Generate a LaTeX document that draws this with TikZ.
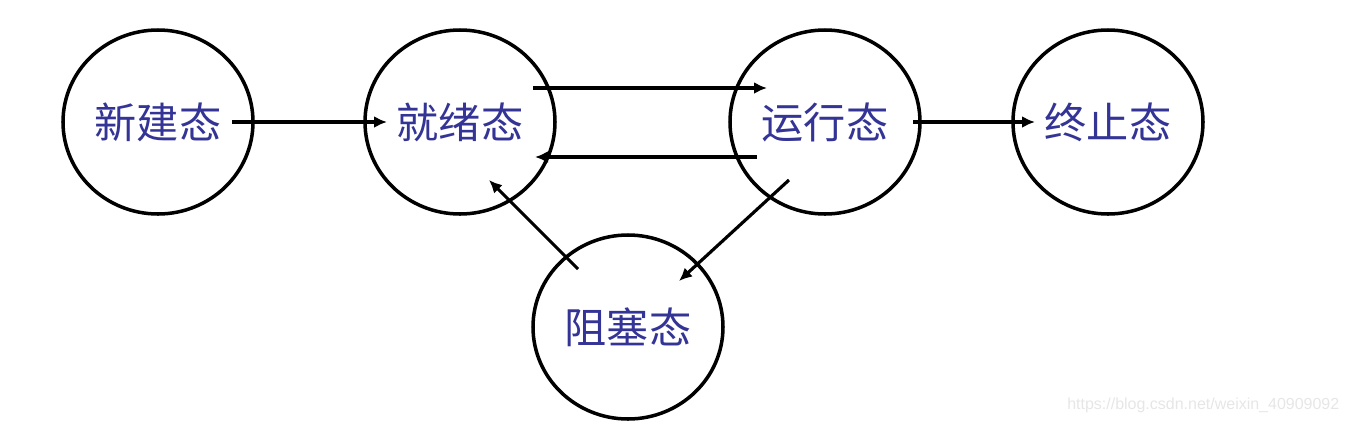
\documentclass[tikz,border=0pt]{standalone}
\usepackage{fontspec}
\newfontfamily\cjk{Noto Sans CJK SC}
\setmainfont{Liberation Sans}
\usetikzlibrary{shapes.geometric,arrows.meta}
\definecolor{stblue}{RGB}{52,52,150}
\definecolor{wmgray}{RGB}{230,230,230}
\tikzset{
  stnode/.style={draw,ellipse,line width=1pt,minimum width=1.9cm,minimum height=1.84cm,
    inner sep=0pt,text=stblue,font=\cjk\fontsize{12}{14}\selectfont},
  trans/.style={-{Latex[length=1.3mm,width=1.2mm]},line width=0.9pt}
}
\begin{document}
\begin{tikzpicture}
\useasboundingbox (0,0) rectangle (13.5,-4.24);

% states
\node[stnode] (new)   at (1.58,-1.22) {新建态};
\node[stnode] (ready) at (4.60,-1.22) {就绪态};
\node[stnode] (run)   at (8.25,-1.22) {运行态};
\node[stnode] (done)  at (11.08,-1.22) {终止态};
\node[stnode] (block) at (6.28,-3.27) {阻塞态};

% transitions
\draw[trans,shorten <=0.74cm,shorten >=0.73cm] (new.center) -- (ready.center);
\draw[trans,shorten <=0.73cm,shorten >=0.58cm] ([yshift=0.34cm]ready.center) -- ([yshift=0.34cm]run.center);
\draw[trans,shorten <=0.68cm,shorten >=0.75cm] ([yshift=-0.35cm]run.center) -- ([yshift=-0.35cm]ready.center);
\draw[trans,shorten <=0.88cm,shorten >=0.73cm] (run.center) -- (done.center);
\draw[trans] ([shift={(-0.36,-0.58)}]run.center) -- ([shift={(0.51,0.46)}]block.center);
\draw[trans] ([shift={(-0.50,0.58)}]block.center) -- ([shift={(0.29,-0.58)}]ready.center);

% watermark
\node[text=wmgray,font=\fontsize{4.55}{5}\selectfont,anchor=east,inner sep=0pt] (wm) at (13.40,-4.05) {https://blog.csdn.net/weixin\_40909092};
\end{tikzpicture}
\end{document}
